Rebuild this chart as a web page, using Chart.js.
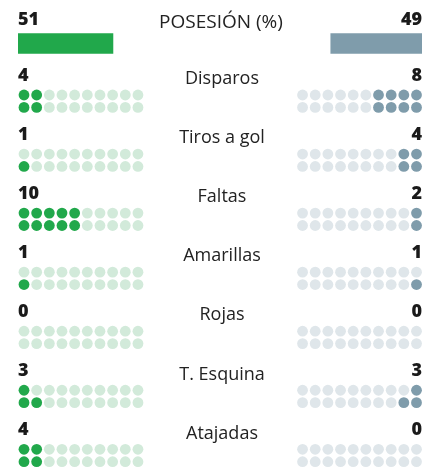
<!DOCTYPE html>
<html>
<head>
<meta charset="utf-8">
<script src="https://cdn.jsdelivr.net/npm/chart.js@4.4.1/dist/chart.umd.min.js"></script>
<style>
  html, body { margin: 0; padding: 0; background: #fff; }
  #wrap { position: relative; width: 444px; height: 471px; overflow: hidden; }
  #wrap canvas { position: absolute; left: 0; top: 0; }
  .txt { position: absolute; white-space: nowrap; line-height: 1; }
  .num { font-family: "Open Sans", sans-serif; font-weight: 800; font-size: 18px; color: #1a1a1a; }
  .lbl { font-family: "Open Sans", sans-serif; font-weight: 400; font-size: 18px; color: #222; transform: translateX(-50%); }
</style>
</head>
<body>
<div id="wrap">
  <canvas id="possChart" width="444" height="87"></canvas>
  <canvas id="dotsChart" width="444" height="471"></canvas>
</div>
<script>
// Match stats
const possessionLabel = 'POSESIÓN (%)';
const possession = [51, 49];          // home, away
const categories = ['Disparos', 'Tiros a gol', 'Faltas', 'Amarillas', 'Rojas', 'T. Esquina', 'Atajadas'];
const homeValues = [4, 1, 10, 1, 0, 3, 4];
const awayValues = [8, 4, 2, 1, 0, 3, 0];

const DOTS_PER_ROW = 10;
const AWAY_FIRST_COL = 22;   // column where the away dot grid starts
const ROW_GAP = 0.21;        // second dot row offset, in section units
const POSS_MAX = 217;        // width of the possession axis

const GREEN = '#21a84b';
const GREEN_LIGHT = '#d2eada';
const GREY = '#7f9cab';
const GREY_LIGHT = '#dfe6ea';

// --- possession bars ---
new Chart(document.getElementById('possChart'), {
    type: 'bar',
    data: {
        labels: [possessionLabel],
        datasets: [
            { data: [[0, possession[0]]], backgroundColor: GREEN },
            { data: [[POSS_MAX - possession[1], POSS_MAX]], backgroundColor: GREY }
        ]
    },
    options: {
        indexAxis: 'y',
        responsive: false,
        animation: false,
        events: [],
        grouped: false,
        barThickness: 20,
        borderWidth: 0,
        layout: { padding: { left: 18, right: 22, top: 0, bottom: 0 } },
        plugins: { legend: { display: false }, tooltip: { enabled: false } },
        scales: {
            x: { display: false, min: 0, max: POSS_MAX },
            y: { display: false }
        }
    }
});

// --- dot grids ---
// bottom row fills first, then the top one, column by column
function dotPoints(values, away, filled) {
    const pts = [];
    values.forEach((v, s) => {
        for (let col = 0; col < DOTS_PER_ROW; col++) {
            for (let row = 0; row < 2; row++) {
                const k = col * 2 + (row === 1 ? 0 : 1);
                if ((k < v) !== filled) continue;
                const x = away ? AWAY_FIRST_COL + DOTS_PER_ROW - 1 - col : col;
                pts.push({ x: x, y: s + row * ROW_GAP });
            }
        }
    });
    return pts;
}

function dotSet(data, color) {
    return {
        data: data,
        pointRadius: 5.4,
        pointHoverRadius: 5.4,
        pointBorderWidth: 0,
        backgroundColor: color,
        borderColor: color,
        clip: false
    };
}

new Chart(document.getElementById('dotsChart'), {
    type: 'scatter',
    data: {
        datasets: [
            dotSet(dotPoints(homeValues, false, false), GREEN_LIGHT),
            dotSet(dotPoints(homeValues, false, true), GREEN),
            dotSet(dotPoints(awayValues, true, false), GREY_LIGHT),
            dotSet(dotPoints(awayValues, true, true), GREY)
        ]
    },
    options: {
        responsive: false,
        animation: false,
        events: [],
        layout: { padding: { left: 24, right: 27.5, top: 95, bottom: 9.3 } },
        plugins: { legend: { display: false }, tooltip: { enabled: false } },
        scales: {
            x: { display: false, min: 0, max: AWAY_FIRST_COL + DOTS_PER_ROW - 1 },
            y: { display: false, reverse: true, min: 0, max: categories.length - 1 + ROW_GAP }
        }
    }
});

// --- text ---
const wrap = document.getElementById('wrap');
function addText(cls, text, css) {
    const d = document.createElement('div');
    d.className = 'txt ' + cls;
    d.textContent = text;
    Object.assign(d.style, css);
    wrap.appendChild(d);
}

addText('num', String(possession[0]), { left: '18px', top: '8.5px' });
addText('num', String(possession[1]), { right: '22px', top: '8.5px' });
addText('lbl', possessionLabel, { left: '221px', top: '11.5px', fontSize: '19px' });

const SECTION_H = 59.1;
categories.forEach((c, i) => {
    const y = i * SECTION_H;
    addText('num', String(homeValues[i]), { left: '18px', top: (64.7 + y) + 'px' });
    addText('num', String(awayValues[i]), { right: '22px', top: (64.7 + y) + 'px' });
    addText('lbl', c, { left: '222px', top: (68 + y) + 'px' });
});
</script>
</body>
</html>
